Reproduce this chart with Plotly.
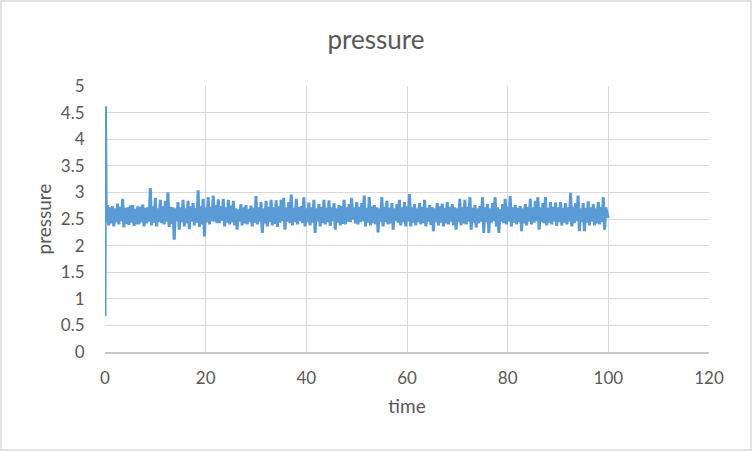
import plotly.graph_objects as go

# start-up spike, then readings every 0.25 time units (low/high pairs per half unit)
start_time = [0.0, 0.1]
start_pressure = [0.67, 4.62]

pressure = [
    2.45, 2.76, 2.38, 2.72, 2.42, 2.74, 2.36, 2.70, 2.44, 2.79, 2.40, 2.73, 2.46, 2.88, 2.34, 2.71, 2.41, 2.72, 2.39, 2.75,
    2.43, 2.76, 2.37, 2.69, 2.40, 2.74, 2.40, 2.73, 2.44, 2.77, 2.36, 2.71, 2.42, 2.72, 2.45, 3.08, 2.38, 2.74, 2.43, 2.90,
    2.36, 2.70, 2.44, 2.86, 2.42, 2.74, 2.40, 2.84, 2.45, 3.00, 2.35, 2.73, 2.41, 2.72, 2.11, 2.70, 2.46, 2.82, 2.30, 2.72,
    2.44, 2.86, 2.36, 2.70, 2.42, 2.84, 2.31, 2.74, 2.45, 2.80, 2.38, 2.71, 2.43, 3.04, 2.35, 2.74, 2.40, 2.88, 2.17, 2.72,
    2.44, 2.91, 2.40, 2.73, 2.46, 2.94, 2.45, 2.76, 2.42, 2.87, 2.42, 2.74, 2.47, 2.88, 2.36, 2.72, 2.43, 2.86, 2.40, 2.75,
    2.44, 2.84, 2.38, 2.70, 2.30, 2.68, 2.45, 2.78, 2.38, 2.72, 2.42, 2.76, 2.40, 2.69, 2.44, 2.75, 2.36, 2.71, 2.43, 2.93,
    2.40, 2.72, 2.45, 2.82, 2.24, 2.70, 2.42, 2.84, 2.36, 2.73, 2.44, 2.86, 2.38, 2.72, 2.41, 2.85, 2.35, 2.74, 2.43, 2.86,
    2.46, 2.90, 2.30, 2.72, 2.45, 2.82, 2.42, 2.96, 2.38, 2.71, 2.44, 2.88, 2.40, 2.73, 2.46, 2.74, 2.42, 2.91, 2.36, 2.70,
    2.44, 2.81, 2.38, 2.72, 2.43, 2.86, 2.24, 2.70, 2.45, 2.78, 2.36, 2.73, 2.42, 2.86, 2.40, 2.71, 2.44, 2.85, 2.37, 2.72,
    2.46, 2.80, 2.30, 2.70, 2.43, 2.76, 2.38, 2.74, 2.41, 2.86, 2.40, 2.72, 2.45, 2.78, 2.44, 2.90, 2.49, 2.72, 2.42, 2.82,
    2.40, 2.73, 2.44, 2.80, 2.46, 2.94, 2.36, 2.71, 2.43, 2.91, 2.38, 2.74, 2.42, 2.76, 2.40, 2.72, 2.25, 2.70, 2.45, 2.91,
    2.36, 2.73, 2.44, 2.84, 2.40, 2.71, 2.42, 2.80, 2.30, 2.70, 2.46, 2.78, 2.43, 2.86, 2.38, 2.72, 2.44, 2.82, 2.36, 2.74,
    2.45, 2.97, 2.36, 2.72, 2.43, 2.78, 2.38, 2.70, 2.44, 2.80, 2.40, 2.73, 2.42, 2.86, 2.36, 2.71, 2.45, 2.76, 2.39, 2.72,
    2.27, 2.70, 2.44, 2.80, 2.38, 2.74, 2.43, 2.79, 2.36, 2.71, 2.42, 2.82, 2.40, 2.73, 2.45, 2.78, 2.38, 2.72, 2.30, 2.70,
    2.44, 2.88, 2.38, 2.72, 2.42, 2.86, 2.40, 2.73, 2.45, 2.91, 2.30, 2.71, 2.43, 2.76, 2.34, 2.70, 2.42, 2.74, 2.45, 2.91,
    2.24, 2.72, 2.44, 2.78, 2.24, 2.70, 2.43, 2.80, 2.46, 2.91, 2.36, 2.72, 2.24, 2.68, 2.45, 2.78, 2.42, 2.88, 2.40, 2.73,
    2.45, 2.93, 2.36, 2.72, 2.43, 2.76, 2.40, 2.71, 2.44, 2.74, 2.27, 2.70, 2.42, 2.78, 2.38, 2.73, 2.45, 2.88, 2.40, 2.72,
    2.43, 2.84, 2.46, 2.91, 2.30, 2.72, 2.44, 2.80, 2.42, 2.91, 2.38, 2.71, 2.43, 2.82, 2.40, 2.73, 2.45, 2.81, 2.37, 2.72,
    2.44, 2.82, 2.38, 2.71, 2.43, 2.80, 2.40, 2.72, 2.45, 2.99, 2.36, 2.73, 2.42, 2.80, 2.46, 2.94, 2.27, 2.70, 2.44, 2.80,
    2.27, 2.71, 2.43, 2.83, 2.38, 2.72, 2.45, 2.78, 2.38, 2.70, 2.42, 2.82, 2.40, 2.73, 2.44, 2.91, 2.30, 2.72, 2.60, 2.52,
]
time = start_time + [0.25 * (i + 1) for i in range(len(pressure))]
pressure = start_pressure + pressure

y_ticks = [0, 0.5, 1, 1.5, 2, 2.5, 3, 3.5, 4, 4.5, 5]
y_labels = ["0", "0.5", "1", "1.5", "2", "2.5", "3", "3.5", "4", "4.5", "5"]
x_ticks = [0, 20, 40, 60, 80, 100, 120]

W, H = 752, 451
L, R, T, B = 105, 43, 86, 99

fig = go.Figure(go.Scatter(x=time, y=pressure, mode='lines',
                           line=dict(color='#5b9bd5', width=3),
                           showlegend=False))

grid = '#d9d9d9'
fig.update_layout(
    width=W, height=H,
    margin=dict(l=L, r=R, t=T, b=B),
    paper_bgcolor='white', plot_bgcolor='white',
    font=dict(family='Lato, Carlito, sans-serif', color='#595959', size=17),
    title=dict(text='pressure', x=0.5, xanchor='center', y=1 - 40 / H, yanchor='middle',
               font=dict(size=26, color='#595959')),
    xaxis=dict(range=[0, 120], tickvals=x_ticks, showgrid=True, gridcolor=grid, gridwidth=1,
               zeroline=False, showline=True, linecolor='#c8c8c8', linewidth=1.5,
               ticks='outside', ticklen=10, tickcolor='rgba(0,0,0,0)',
               tickfont=dict(size=17), fixedrange=True,
               title=dict(text='time', font=dict(size=19), standoff=13)),
    yaxis=dict(range=[0, 5], tickvals=y_ticks, ticktext=y_labels, showgrid=True,
               gridcolor=grid, gridwidth=1, zeroline=False, showline=False,
               ticks='outside', ticklen=16, tickcolor='rgba(0,0,0,0)',
               tickfont=dict(size=17), fixedrange=True,
               title=dict(text='pressure', font=dict(size=19), standoff=4)),
)

# outer chart border, like the Excel chart area
pw, ph = W - L - R, H - T - B
fig.add_shape(type='rect', xref='paper', yref='paper',
              x0=(1 - L) / pw, x1=(W - 1 - L) / pw,
              y0=-(H - 1 - (H - B)) / ph, y1=(H - 1 - B) / ph,
              line=dict(color='#d9d9d9', width=1.5), layer='below')

# page has a default 8px body margin; drop it so the chart sits at 0,0
fig.write_html("out.html", config={'displayModeBar': False},
               post_script="document.body.style.margin='0px';")
